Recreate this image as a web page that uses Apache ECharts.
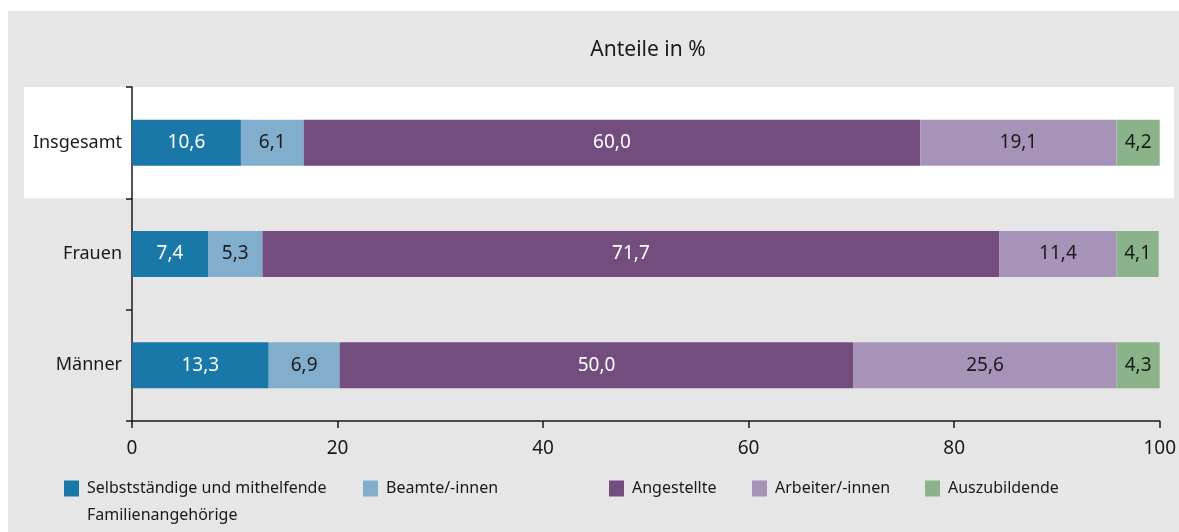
<!DOCTYPE html>
<html>
<head>
<meta charset="utf-8">
<script src="https://cdn.jsdelivr.net/npm/echarts@6/dist/echarts.min.js"></script>
<style>
  html, body { margin: 0; padding: 0; background: #fff; }
  #chart { position: absolute; left: 8px; top: 11px; width: 1171px; height: 521px; background: #e5e6e5; }
</style>
</head>
<body>
<div id="chart"></div>
<script>
// Daten
var categories = ['Insgesamt', 'Frauen', 'Männer']
var seriesNames = ['Selbstständige und mithelfende Familienangehörige', 'Beamte/-innen', 'Angestellte', 'Arbeiter/-innen', 'Auszubildende']
var selbststaendige = [10.6, 7.4, 13.3]
var beamte = [6.1, 5.3, 6.9]
var angestellte = [60.0, 71.7, 50.0]
var arbeiter = [19.1, 11.4, 25.6]
var azubis = [4.2, 4.1, 4.3]
var xTicks = [0, 20, 40, 60, 80, 100]

var colors = ['#1a78a8', '#82aecd', '#744d7f', '#a893b8', '#8bb38a']
var labelColors = ['#fff', '#1a1a1a', '#fff', '#1a1a1a', '#1a1a1a']
var fontFamily = 'Noto Sans'
var textColor = '#1a1a1a'

var allData = [selbststaendige, beamte, angestellte, arbeiter, azubis]

var chart = echarts.init(document.getElementById('chart'))

function fmt(v) {
    return v.toFixed(1).replace('.', ',')
}

var series = allData.map(function(d, i) {
    return {
        name: seriesNames[i],
        type: 'bar',
        stack: 'total',
        barWidth: 46,
        itemStyle: { color: colors[i] },
        label: {
            show: true,
            position: 'inside',
            color: labelColors[i],
            fontFamily: fontFamily,
            fontSize: 19,
            formatter: function(p) { return fmt(p.value) }
        },
        emphasis: { disabled: true },
        data: d
    }
})

// Legende: je Eintrag eine eigene Legende, damit die Abstände passen
// (erster Eintrag zweizeilig, Leerzeile oben damit das Kästchen an Zeile 1 steht)
var legendLefts = [56, 355, 601, 744, 917]
var legends = seriesNames.map(function(n, i) {
    return {
        data: [n],
        left: legendLefts[i],
        top: i === 0 ? 437 : 464,
        padding: 0,
        itemWidth: 15,
        itemHeight: 16,
        icon: 'rect',
        selectedMode: false,
        formatter: i === 0 ? function() { return ' \nSelbstständige und mithelfende\nFamilienangehörige' } : '{name}',
        textStyle: {
            fontFamily: fontFamily,
            fontSize: 16,
            color: textColor,
            lineHeight: 27,
            padding: [0, 0, 0, 3]
        }
    }
})

chart.setOption({
    animation: false,
    title: {
        text: 'Anteile in %',
        left: 635,
        textAlign: 'center',
        top: 24,
        textStyle: { fontFamily: fontFamily, fontSize: 21, fontWeight: 'normal', color: textColor }
    },
    legend: legends,
    grid: { left: 124, right: 17, top: 76, bottom: 111 },
    xAxis: {
        type: 'value',
        min: 0,
        max: 100,
        interval: 20,
        axisLine: { show: true, lineStyle: { color: textColor, width: 1.5 } },
        axisTick: { show: true, length: 7, lineStyle: { color: textColor, width: 1.5 } },
        splitLine: { show: false },
        axisLabel: {
            margin: 18,
            fontFamily: fontFamily,
            fontSize: 19,
            color: textColor,
            formatter: function(v) { return xTicks.indexOf(v) >= 0 ? String(v) : '' }
        }
    },
    yAxis: {
        type: 'category',
        inverse: true,
        data: categories,
        axisLine: { show: true, lineStyle: { color: textColor, width: 1.5 } },
        axisTick: { show: true, length: 6, lineStyle: { color: textColor, width: 1.5 } },
        axisLabel: { margin: 10, fontFamily: fontFamily, fontSize: 18, color: textColor }
    },
    series: series
})

// weisser Hintergrund hinter "Insgesamt"
var yc = chart.convertToPixel({ yAxisIndex: 0 }, categories[0])
var band = chart.getModel().getComponent('yAxis', 0).axis.getBandWidth()
chart.setOption({
    graphic: [{
        type: 'rect',
        z: -10,
        silent: true,
        shape: { x: 16, y: yc - band / 2, width: 1150, height: band },
        style: { fill: '#fff' }
    }]
})
</script>
</body>
</html>
